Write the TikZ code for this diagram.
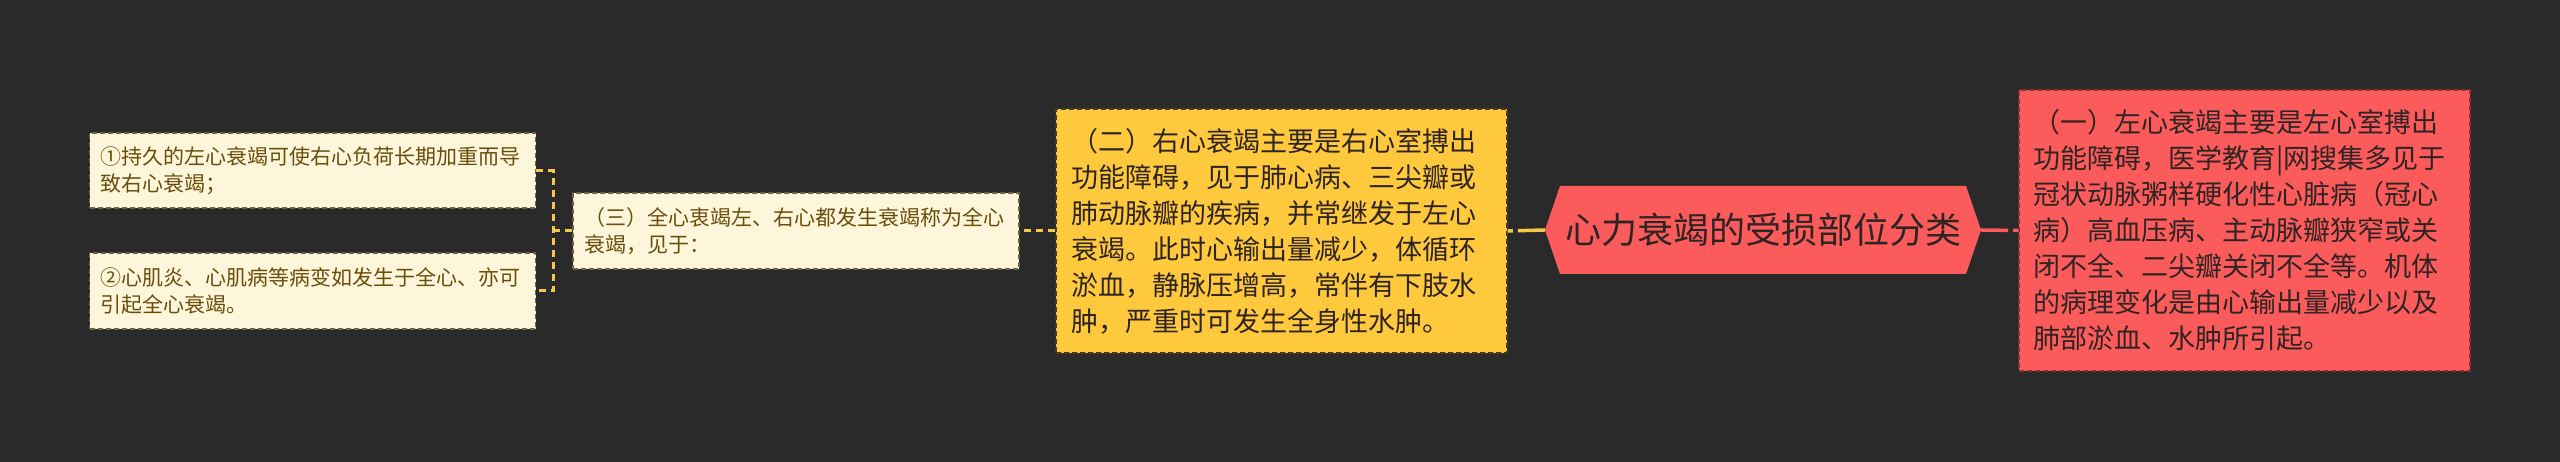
\documentclass[tikz,border=0pt]{standalone}
\usepackage{fontspec}
\setmainfont{Noto Sans CJK SC}
\definecolor{bgc}{HTML}{2A2A2A}
\definecolor{creamc}{HTML}{FEF6DB}
\definecolor{creamt}{HTML}{6A4E0C}
\definecolor{creamb}{HTML}{6E6448}
\definecolor{yelc}{HTML}{FEC93C}
\definecolor{yelb}{HTML}{4A3C10}
\definecolor{redc}{HTML}{FC5B5B}
\definecolor{redb}{HTML}{8A3030}
\definecolor{darkt}{HTML}{2E2424}
\definecolor{linky}{HTML}{F5C84A}
\begin{document}
\begin{tikzpicture}[x=1pt, y=1pt,
  box/.style={rectangle, line width=1.2pt, dash pattern=on 5pt off 3pt,
    align=left, inner ysep=0pt},
  cream/.style={box, draw=creamb, fill=creamc, text=creamt,
    font=\fontsize{21pt}{27pt}\selectfont, inner xsep=11pt,
    text width=424pt, minimum height=76pt},
  yelbox/.style={box, draw=yelb, fill=yelc, text=darkt,
    font=\fontsize{27pt}{36pt}\selectfont, inner xsep=15pt,
    text width=421pt},
  redbox/.style={box, draw=redb, fill=redc, text=darkt,
    font=\fontsize{27pt}{36pt}\selectfont, inner xsep=14pt,
    text width=423pt},
  dlink/.style={draw=linky, line width=3pt, dash pattern=on 7pt off 5pt},
  ylink/.style={draw=linky, line width=3.5pt, dash pattern=on 27pt off 5pt on 20pt},
  rlink/.style={draw=redc, line width=3.5pt, dash pattern=on 27pt off 5pt on 20pt}]

  % 背景
  \fill[bgc] (0,0) rectangle (2560,462);
  \useasboundingbox (0,0) rectangle (2560,462);

  % 中心
  \fill[redc] (1545,232) -- ++(15,44) -- ++(406,0) -- ++(15,-44)
    -- ++(-15,-44) -- ++(-406,0) -- cycle;
  \node[minimum width=436pt, minimum height=88pt, inner sep=0pt, text=darkt,
    font=\fontsize{36pt}{36pt}\selectfont] (root) at (1763,232)
    {心力衰竭的受损部位分类};

  % 右側
  \node[redbox, minimum height=281pt] (yi) at (2244.5,231.5)
    {（一）左心衰竭主要是左心室搏出\\
     功能障碍，医学教育|网搜集多见于\\
     冠状动脉粥样硬化性心脏病（冠心\\
     病）高血压病、主动脉瓣狭窄或关\\
     闭不全、二尖瓣关闭不全等。机体\\
     的病理变化是由心输出量减少以及\\
     肺部淤血、水肿所引起。};

  % 左側
  \node[yelbox, minimum height=244pt] (er) at (1281.5,231)
    {（二）右心衰竭主要是右心室搏出\\
     功能障碍，见于肺心病、三尖瓣或\\
     肺动脉瓣的疾病，并常继发于左心\\
     衰竭。此时心输出量减少，体循环\\
     淤血，静脉压增高，常伴有下肢水\\
     肿，严重时可发生全身性水肿。};

  \node[cream] (san) at (796,231)
    {（三）全心衷竭左、右心都发生衰竭称为全心\\
     衰竭，见于：};

  \node[cream, minimum height=75pt] (c1) at (312.5,291.5)
    {①持久的左心衰竭可使右心负荷长期加重而导\\
     致右心衰竭；};
  \node[cream] (c2) at (312.5,171)
    {②心肌炎、心肌病等病变如发生于全心、亦可\\
     引起全心衰竭。};

  \coordinate (jn) at (553,231);

  % 線
  \draw[ylink] (root.west) -- (er.east);
  \draw[rlink] (root.east) -- (yi.west);
  \draw[dlink] (er.west) -- (san.east);
  \draw[dlink] (san.west) -- (jn);
  \draw[dlink] (c1.east) -| (jn) |- (c2.east);

\end{tikzpicture}
\end{document}
